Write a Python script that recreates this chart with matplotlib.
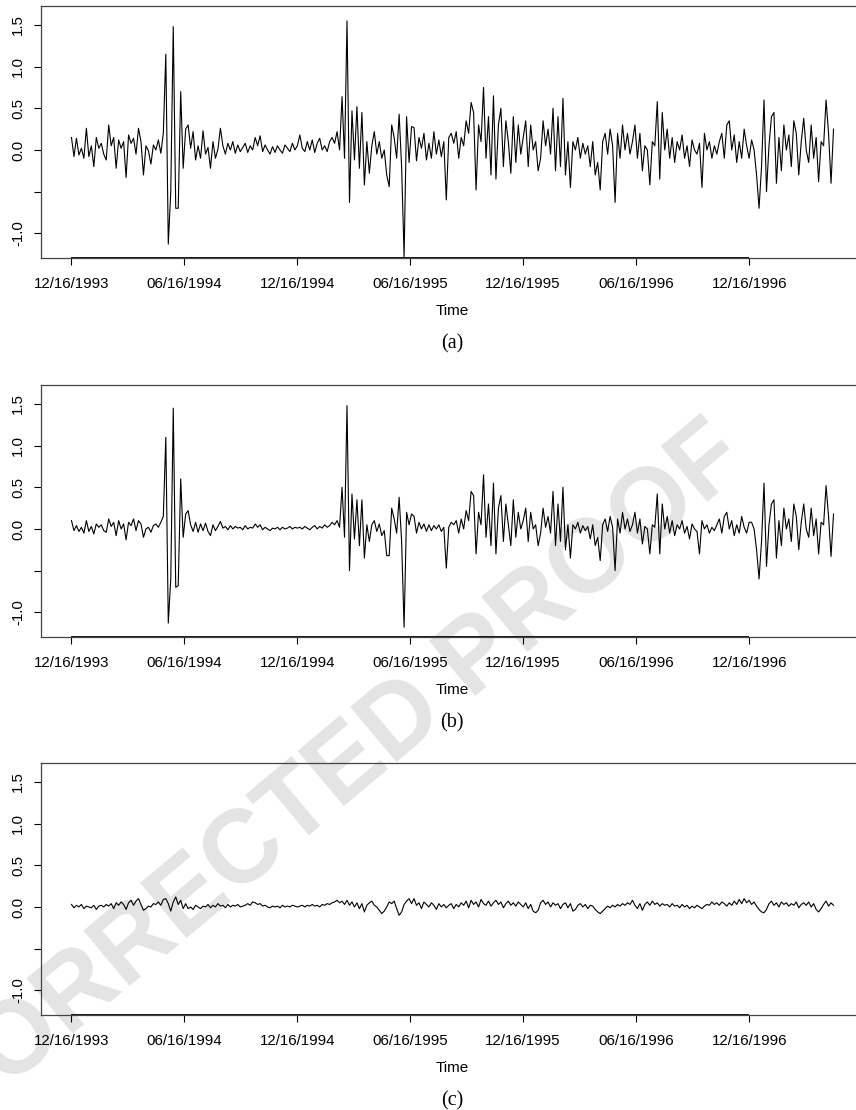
import matplotlib
matplotlib.use('Agg')
from matplotlib import pyplot as plt
import pandas as pd

plt.rcParams['font.family'] = ['Liberation Sans', 'DejaVu Sans']

start = '1993-12-16'
end = '1997-05-01'
tick_dates = ['1993-12-16', '1994-06-16', '1994-12-16', '1995-06-16',
              '1995-12-16', '1996-06-16', '1996-12-16']
tick_labels = ['12/16/1993', '06/16/1994', '12/16/1994', '06/16/1995',
               '12/16/1995', '06/16/1996', '12/16/1996']
yticks = [-1.0, -0.5, 0.0, 0.5, 1.0, 1.5]
ytick_labels = ['-1.0', '', '0.0', '0.5', '1.0', '1.5']
panel_names = ['(a)', '(b)', '(c)']

serie_a = [
    0.15, -0.08, 0.14, -0.06, 0.02, -0.1, 0.26, -0.08, 0.05, -0.2,
    0.15, 0.02, 0.08, -0.05, -0.12, 0.3, 0.05, 0.15, -0.22, 0.12,
    0.02, 0.1, -0.33, 0.18, 0.08, 0.14, -0.05, 0.26, 0.1, -0.3,
    0.05, -0.01, -0.17, 0.06, 0.0, 0.12, -0.04, 0.2,
    1.15, -1.13, -0.5, 1.48, -0.7, -0.7, 0.7, -0.22,
    0.25, 0.3, 0.02, 0.22, -0.12, 0.05, -0.1, 0.23, -0.05, 0.03,
    -0.22, 0.1, -0.1, 0.01, 0.26, 0.05, -0.05, 0.08, 0.0, 0.1,
    -0.04, 0.06, -0.02, 0.03, 0.08, -0.03, 0.05, 0.0, 0.15, 0.05,
    0.17, -0.02, 0.06, 0.0, -0.05, 0.04, -0.03, 0.05, 0.0, -0.04,
    0.06, 0.02, -0.02, 0.08, 0.0, 0.05,
    0.18, 0.02, -0.02, 0.1, 0.0, 0.12, -0.03, 0.08, 0.14, 0.0,
    0.05, -0.02, 0.1, 0.15, 0.08, 0.22, 0.0, 0.64, -0.1, 1.55,
    -0.63, 0.47, -0.12, 0.52, -0.22, 0.45, -0.42, 0.1, -0.28, 0.05,
    0.22, -0.05, 0.1, -0.1, 0.0, -0.3, -0.44, 0.3, 0.15, -0.1,
    0.43, -0.2, -1.28, 0.4, -0.15,
    0.28, 0.27, -0.13, 0.15, 0.02, 0.2, -0.12, 0.08, -0.1, 0.22,
    -0.05, 0.12, -0.08, 0.1, -0.6, 0.15, 0.2, 0.08, 0.22, -0.1,
    0.15, 0.05, 0.35, 0.2, 0.57, 0.45, -0.48, 0.3, 0.1, 0.75,
    -0.1, 0.4, -0.3, 0.65, -0.35, 0.3, 0.5, -0.2, 0.35, 0.1,
    -0.28, 0.4, -0.15, 0.3, -0.05, 0.15,
    0.35, -0.2, 0.3, 0.0, 0.1, -0.25, -0.1, 0.35, 0.05, 0.25,
    -0.05, 0.5, -0.25, 0.4, -0.2, 0.62, -0.3, 0.1, -0.45, 0.1,
    0.0, 0.15, -0.1, 0.08, -0.05, 0.05, -0.2, 0.1, -0.3, -0.15,
    -0.48, 0.1, 0.2, -0.05, 0.25, 0.05, -0.63, 0.2, -0.1, 0.3,
    0.0, 0.2, -0.05, 0.1, 0.3, -0.1,
    0.2, -0.25, 0.05, 0.0, -0.42, 0.1, 0.05, 0.58, -0.35, 0.45,
    0.0, 0.25, -0.1, 0.15, -0.15, 0.1, 0.0, 0.18, -0.1, 0.05,
    -0.2, 0.12, 0.0, -0.05, 0.08, -0.45, 0.2, 0.0, 0.1, -0.1,
    0.05, -0.05, 0.1, 0.2, -0.1, 0.3, 0.35, 0.0, 0.18, -0.15,
    0.1, -0.1, 0.25, 0.05, -0.1,
    0.12, 0.0, -0.3, -0.7, -0.2, 0.6, -0.5, 0.05, 0.4, 0.45,
    -0.4, 0.15, -0.25, 0.3, 0.0, 0.18, -0.2, 0.35, 0.2, -0.3,
    0.1, 0.38, 0.0, -0.15, 0.3, -0.1, 0.15, -0.38, 0.1, 0.05,
    0.6, 0.2, -0.4, 0.25,
]

serie_b = [
    0.1, -0.02, 0.04, -0.03, 0.02, -0.05, 0.1, -0.03, 0.03, -0.06,
    0.06, 0.02, 0.05, -0.02, -0.04, 0.12, 0.03, 0.08, -0.08, 0.1,
    0.0, 0.06, -0.13, 0.08, 0.04, 0.12, -0.02, 0.1, 0.06, -0.1,
    0.0, 0.02, -0.04, 0.04, 0.06, 0.02, 0.08, 0.15,
    1.1, -1.13, -0.6, 1.45, -0.7, -0.68, 0.6, -0.1,
    0.18, 0.22, 0.05, -0.03, 0.08, -0.04, 0.06, -0.02, 0.07, -0.03,
    -0.08, 0.05, -0.02, 0.03, 0.09, 0.01, 0.03, -0.01, 0.04, 0.0,
    0.03, 0.01, 0.02, -0.01, 0.04, 0.0, 0.02, 0.01, 0.06, 0.02,
    0.05, -0.01, 0.02, 0.0, -0.02, 0.01, 0.0, 0.02, -0.01, 0.02,
    0.0, 0.01, 0.03, 0.0, 0.02, 0.01,
    0.02, 0.0, 0.03, 0.01, -0.01, 0.02, 0.04, 0.0, 0.03, 0.01,
    0.05, 0.02, 0.04, 0.08, 0.05, 0.1, 0.02, 0.5, -0.1, 1.48,
    -0.5, 0.42, -0.12, 0.35, -0.2, 0.35, -0.35, 0.05, -0.15, 0.05,
    0.1, -0.03, 0.06, -0.08, -0.02, -0.32, -0.32, 0.25, 0.12, -0.05,
    0.38, -0.15, -1.18, 0.2, 0.05,
    0.18, 0.15, -0.05, 0.08, 0.0, 0.06, -0.03, 0.05, -0.02, 0.04,
    0.0, 0.05, -0.03, 0.02, -0.47, 0.02, 0.08, 0.05, 0.1, -0.05,
    0.12, 0.0, 0.22, 0.1, 0.45, 0.4, -0.3, 0.2, 0.05, 0.65,
    -0.1, 0.3, -0.2, 0.55, -0.3, 0.25, 0.4, -0.15, 0.3, 0.05,
    -0.2, 0.35, -0.1, 0.2, 0.0, 0.1,
    0.25, -0.15, 0.2, 0.0, 0.05, -0.2, -0.05, 0.25, 0.02, 0.15,
    -0.05, 0.45, -0.2, 0.3, -0.15, 0.5, -0.25, 0.05, -0.35, 0.05,
    0.0, 0.08, -0.05, 0.04, -0.02, 0.03, -0.12, 0.05, -0.2, -0.1,
    -0.38, 0.05, 0.12, -0.03, 0.15, 0.02, -0.5, 0.12, -0.05, 0.2,
    0.0, 0.12, -0.03, 0.05, 0.2, -0.05,
    0.12, -0.18, 0.03, 0.0, -0.3, 0.05, 0.02, 0.42, -0.3, 0.3,
    0.0, 0.15, -0.05, 0.1, -0.08, 0.05, 0.0, 0.1, -0.05, 0.03,
    -0.12, 0.06, 0.0, -0.03, -0.3, 0.1, 0.0, 0.05, -0.05, 0.02,
    -0.02, 0.05, 0.12, -0.05, 0.15, 0.2, 0.0, 0.1, -0.08, 0.05,
    -0.05, 0.15, 0.02, -0.05, 0.08,
    0.08, 0.0, -0.25, -0.6, -0.15, 0.55, -0.45, 0.05, 0.3, 0.35,
    -0.35, 0.1, -0.2, 0.25, 0.0, 0.12, -0.15, 0.3, 0.15, -0.25,
    0.08, 0.3, 0.0, -0.1, 0.25, -0.08, 0.12, -0.3, 0.08, 0.05,
    0.52, 0.15, -0.33, 0.18,
]

serie_c = [
    0.03, -0.01, 0.02, 0.0, 0.03, -0.02, 0.01, 0.0, -0.01, 0.02,
    -0.03, 0.01, 0.02, 0.0, 0.03, 0.01, 0.04, -0.02, 0.05, 0.02,
    0.06, 0.03, -0.03, 0.05, 0.08, 0.02, 0.07, 0.1, 0.03, -0.04,
    -0.02, 0.01, 0.0, 0.04, 0.03, 0.06, 0.02, 0.09, 0.1, 0.04,
    -0.05, 0.06, 0.12, 0.03, 0.08, -0.02,
    0.04, -0.02, 0.0, -0.03, 0.02, 0.0, -0.02, 0.01, 0.0, 0.03,
    -0.01, 0.02, 0.0, 0.04, 0.01, 0.02, -0.01, 0.03, 0.0, 0.02,
    0.01, 0.03, 0.0, 0.01, 0.02, 0.04, 0.02, 0.06, 0.05, 0.03,
    0.04, 0.01, 0.02, 0.0, -0.01, 0.01, 0.0, 0.01, -0.01, 0.02,
    0.0, 0.01, 0.0, 0.02, 0.01, 0.0,
    0.01, 0.02, 0.0, 0.02, 0.01, 0.03, 0.01, 0.02, 0.0, 0.03,
    0.02, 0.04, 0.03, 0.05, 0.06, 0.08, 0.05, 0.07, 0.03, 0.08,
    0.02, 0.06, 0.0, 0.05, -0.02, 0.04, -0.06, 0.02, 0.05, 0.07,
    0.02, 0.0, -0.04, -0.08, -0.05, 0.0, 0.06, 0.04, 0.07, -0.02,
    -0.1, -0.06, 0.03, 0.07, 0.1,
    0.04, 0.1, 0.02, 0.05, -0.02, 0.06, 0.03, 0.0, 0.05, 0.02,
    -0.03, 0.04, 0.0, 0.03, -0.01, 0.02, 0.04, -0.02, 0.03, 0.0,
    0.05, 0.02, 0.07, -0.01, 0.08, 0.03, 0.06, 0.0, 0.09, 0.04,
    0.02, 0.07, 0.01, 0.05, 0.08, 0.03, 0.06, -0.01, 0.04, 0.07,
    0.02, 0.05, 0.01, 0.06, 0.03, 0.0,
    0.05, -0.02, 0.03, -0.05, -0.07, -0.04, 0.05, 0.08, 0.03, 0.06,
    0.0, 0.05, 0.02, 0.04, -0.02, 0.03, 0.05, -0.01, 0.04, -0.05,
    -0.03, 0.02, 0.04, 0.0, 0.03, -0.02, 0.02, 0.01, -0.03, -0.06,
    -0.08, -0.05, -0.02, 0.01, -0.01, 0.02, 0.0, 0.03, 0.01, 0.04,
    0.02, 0.05, 0.03, 0.08, 0.02, -0.02,
    0.04, -0.04, 0.03, 0.06, 0.02, 0.07, 0.03, 0.05, 0.01, 0.04,
    0.02, 0.03, 0.0, 0.04, 0.01, 0.02, -0.01, 0.03, 0.0, 0.02,
    -0.02, 0.01, -0.01, 0.02, 0.0, -0.02, 0.01, 0.03, 0.02, 0.06,
    0.03, 0.05, 0.02, 0.06, 0.04, 0.01, 0.05, 0.02, 0.07, 0.03,
    0.09, 0.04, 0.1, 0.05, 0.08,
    0.03, 0.06, 0.01, -0.03, -0.06, -0.07, -0.03, 0.04, 0.07, 0.02,
    0.05, 0.0, 0.06, 0.03, 0.05, 0.01, 0.04, 0.02, 0.06, -0.01,
    0.03, 0.05, 0.02, 0.06, 0.0, 0.04, -0.03, -0.06, -0.02, 0.03,
    0.07, 0.01, 0.05, 0.02,
]

W, H = 856, 1110
fig = plt.figure(figsize=(W / 100, H / 100), dpi=100)

# marca d'agua atras dos paineis
fig.text(276 / W, 1 - 828 / H, 'UNCORRECTED PROOF', rotation=40, fontsize=74,
         fontweight='bold', color='#e4e4e4', ha='center', va='center',
         rotation_mode='anchor', zorder=-1)

t0 = pd.Timestamp(start)
t1 = pd.Timestamp(end)
margem = (t1 - t0) * 0.04
ticks = pd.to_datetime(tick_dates)
ylim = (-1.297, 1.728)

bottoms = [258, 637, 1015]
for serie, nome, base in zip([serie_a, serie_b, serie_c], panel_names, bottoms):
    ax = fig.add_axes([41 / W, 1 - base / H, 823 / W, 252 / H])
    ax.patch.set_visible(False)
    tempo = pd.date_range(t0, t1, periods=len(serie))
    ax.plot(tempo, serie, color='black', lw=0.8)
    ax.set_xlim(t0 - margem, t1 + margem)
    ax.set_ylim(*ylim)
    ax.set_xticks(ticks)
    ax.set_xticklabels(tick_labels)
    ax.set_yticks(yticks)
    ax.set_yticklabels(ytick_labels, rotation=90, va='center')
    ax.tick_params(axis='both', direction='out', length=5, width=0.8,
                   labelsize=10.8, color='black')
    ax.tick_params(axis='x', pad=8.5)
    ax.tick_params(axis='y', pad=6.5)
    for lado in ['left', 'top', 'bottom', 'right']:
        ax.spines[lado].set_color('#444444')
        ax.spines[lado].set_linewidth(0.9)
    # linha do eixo de R entre o primeiro e o ultimo tick
    ax.plot([ticks[0], ticks[-1]], [ylim[0], ylim[0]], color='black', lw=1.3,
            clip_on=False, solid_capstyle='butt')
    fig.text(452 / W, 1 - (base + 53) / H, 'Time', ha='center', va='center',
             fontsize=11)
    fig.text(452 / W, 1 - (base + 86) / H, nome, ha='center', va='center',
             fontsize=14.5, family=['Liberation Serif', 'DejaVu Serif'])

fig.savefig('out.png', dpi=100)
